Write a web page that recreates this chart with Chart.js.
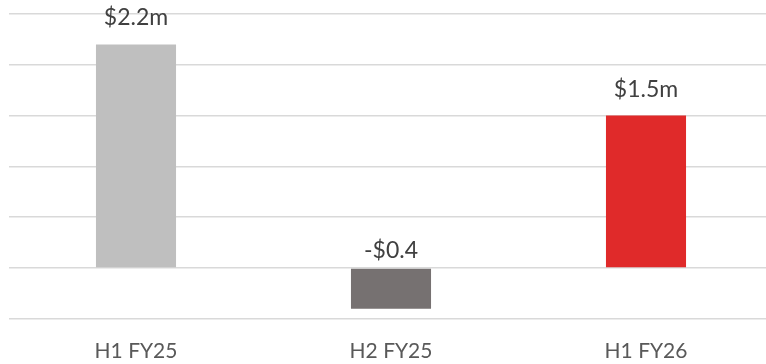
<!DOCTYPE html>
<html>
<head>
<meta charset="utf-8">
<script src="https://cdn.jsdelivr.net/npm/chart.js@4"></script>
<style>
  html, body { margin: 0; padding: 0; background: #fff; overflow: hidden; }
  canvas { display: block; }
</style>
</head>
<body>
<canvas id="graphique" width="774" height="364"></canvas>
<script>
// Données
const periodes = ['H1 FY25', 'H2 FY25', 'H1 FY26'];
const valeurs = [2.2, -0.4, 1.5];
const etiquettes = ['$2.2m', '-$0.4', '$1.5m'];
const couleurs = ['#BFBFBF', '#767171', '#E02A2A'];

// Étiquettes au-dessus des barres (au-dessus de zéro pour les négatives)
const pluginEtiquettes = {
    id: 'etiquettes',
    afterDatasetsDraw(chart) {
        const ctx = chart.ctx;
        const echelleY = chart.scales.y;
        const meta = chart.getDatasetMeta(0);
        ctx.save();
        ctx.font = '23px Lato';
        ctx.fillStyle = '#404040';
        ctx.textAlign = 'center';
        ctx.textBaseline = 'alphabetic';
        meta.data.forEach((barre, i) => {
            let haut = valeurs[i] >= 0 ? barre.y : echelleY.getPixelForValue(0);
            let decalage = valeurs[i] >= 0 ? 19 : 10;
            ctx.fillText(etiquettes[i], barre.x, haut - decalage);
        });
        ctx.restore();
    }
};

new Chart(document.getElementById('graphique'), {
    type: 'bar',
    data: {
        labels: periodes,
        datasets: [{
            data: valeurs,
            backgroundColor: couleurs,
            barPercentage: 0.314,
            categoryPercentage: 1
        }]
    },
    options: {
        responsive: false,
        animation: false,
        layout: { padding: { top: 14, left: 8.5, right: 0.5, bottom: -20 } },
        plugins: { legend: { display: false }, tooltip: { enabled: false } },
        scales: {
            x: {
                grid: { display: false, drawTicks: false },
                border: { display: false },
                ticks: { color: '#595959', font: { family: 'Lato', size: 21 }, padding: 20 }
            },
            y: {
                min: -0.5,
                max: 2.5,
                ticks: { display: false, stepSize: 0.5 },
                border: { display: false },
                grid: { color: '#D9D9D9', lineWidth: 1.5, drawTicks: false }
            }
        }
    },
    plugins: [pluginEtiquettes]
});
</script>
</body>
</html>
